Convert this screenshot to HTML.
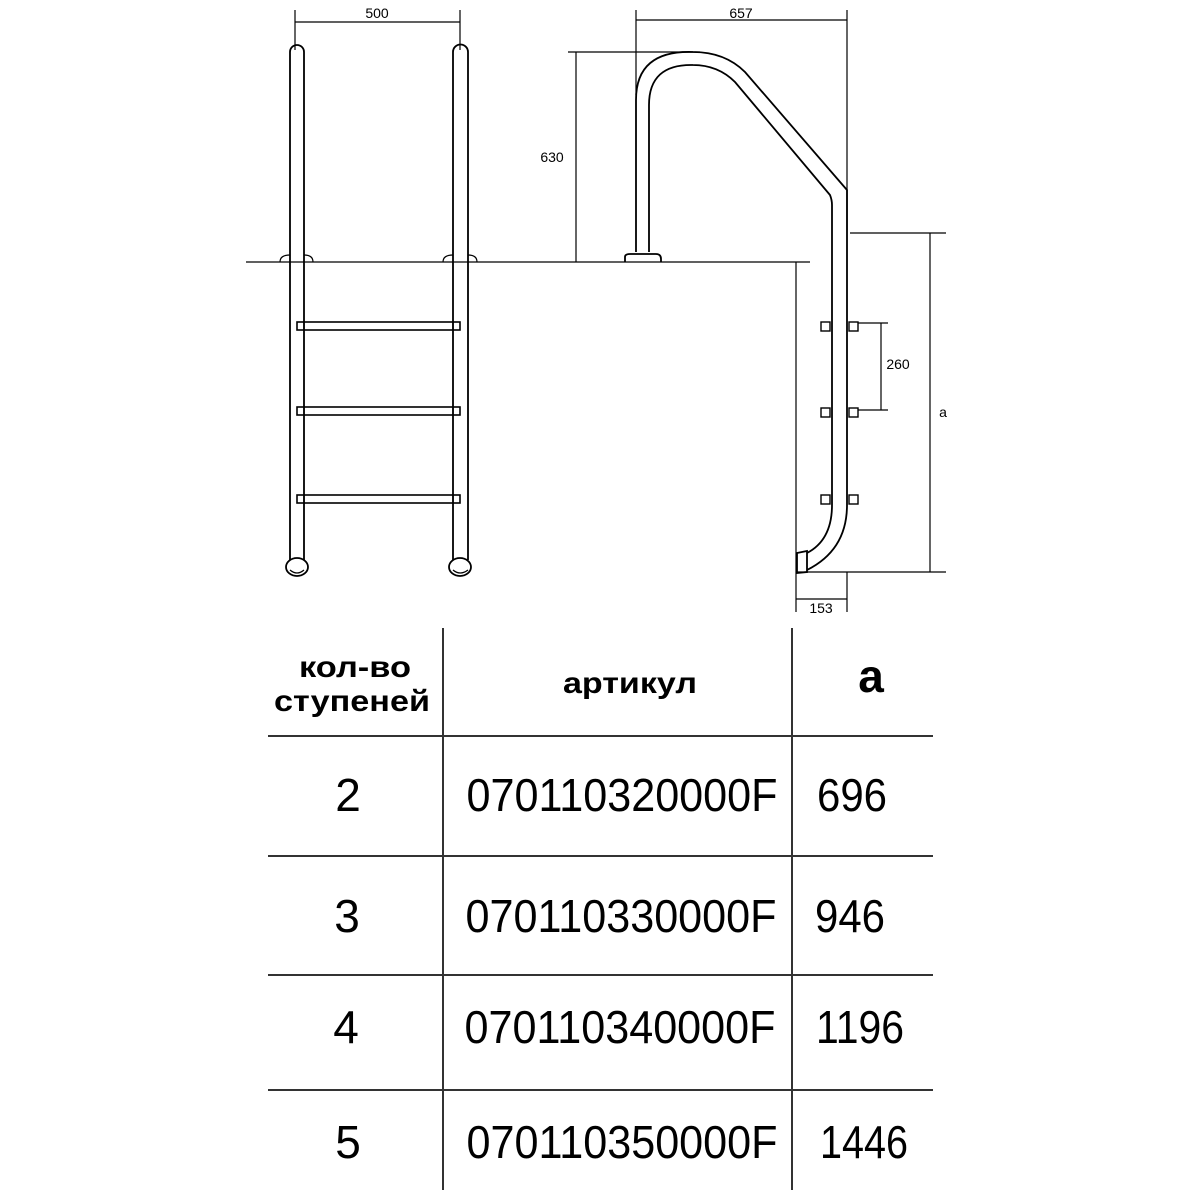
<!DOCTYPE html>
<html><head><meta charset="utf-8"><style>html,body{margin:0;padding:0;background:#fff}svg{display:block}</style></head>
<body>
<svg width="1200" height="1200" viewBox="0 0 1200 1200" xmlns="http://www.w3.org/2000/svg">
<g fill="none" stroke="#000" stroke-width="1.2">
<line x1="295" y1="10" x2="295" y2="50"/>
<line x1="460" y1="10" x2="460" y2="50"/>
<line x1="295" y1="22" x2="460" y2="22"/>
<line x1="246" y1="262" x2="810" y2="262"/>
<path d="M290 560 V52 A7 7 0 0 1 304 52 V560" stroke-width="1.8"/>
<path d="M453 560 V52 A7.5 7.5 0 0 1 468 52 V560" stroke-width="1.8"/>
<ellipse cx="297" cy="567" rx="11" ry="9" stroke-width="1.8"/>
<ellipse cx="460" cy="567" rx="11" ry="9" stroke-width="1.8"/>
<path d="M290 570 Q297 576 304 570" />
<path d="M453 570 Q460 576 468 570" />
<path d="M280 262 Q280 255 290 255"/>
<path d="M304 255 Q313 255 313 262"/>
<path d="M443 262 Q443 255 453 255"/>
<path d="M468 255 Q477 255 477 262"/>
<g stroke-width="1.6">
<rect x="297" y="322" width="163" height="8"/>
<rect x="297" y="407" width="163" height="8"/>
<rect x="297" y="495" width="163" height="8"/>
</g>
<line x1="304" y1="322" x2="304" y2="330"/><line x1="453" y1="322" x2="453" y2="330"/>
<line x1="304" y1="407" x2="304" y2="415"/><line x1="453" y1="407" x2="453" y2="415"/>
<line x1="304" y1="495" x2="304" y2="503"/><line x1="453" y1="495" x2="453" y2="503"/>
<line x1="636" y1="10" x2="636" y2="95"/>
<line x1="847" y1="10" x2="847" y2="230"/>
<line x1="636" y1="20" x2="847" y2="20"/>
<line x1="568" y1="52" x2="700" y2="52"/>
<line x1="576" y1="52" x2="576" y2="262"/>
<g stroke-width="1.8">
<path d="M636 252 V100 Q636 50 693 52 Q725 52 745 72 L847 190 V505 Q847 550 807 570"/>
<path d="M649 252 V105 Q649 64 693 65 Q718 65 735 82 L830 195 Q832 200 832 205 V505 Q832 540 807 553"/>
<path d="M797 553 L807 551 V572 L797 573 Z"/>
<path d="M625 262 V257 Q625 254 630 254 H656 Q661 254 661 259 V262"/>
</g>
<line x1="796" y1="262" x2="796" y2="612"/>
<line x1="847" y1="572" x2="847" y2="612"/>
<line x1="796" y1="599" x2="847" y2="599"/>
<g stroke-width="1.4">
<rect x="821" y="322" width="9" height="9"/><rect x="849" y="322" width="9" height="9"/>
<rect x="821" y="408" width="9" height="9"/><rect x="849" y="408" width="9" height="9"/>
<rect x="821" y="495" width="9" height="9"/><rect x="849" y="495" width="9" height="9"/>
</g>
<line x1="858" y1="323" x2="888" y2="323"/>
<line x1="858" y1="410" x2="888" y2="410"/>
<line x1="881" y1="323" x2="881" y2="410"/>
<line x1="850" y1="233" x2="946" y2="233"/>
<line x1="796" y1="572" x2="946" y2="572"/>
<line x1="930" y1="233" x2="930" y2="572"/>
<g stroke="#333" stroke-width="2">
<line x1="443" y1="628" x2="443" y2="1190"/>
<line x1="792" y1="628" x2="792" y2="1190"/>
<line x1="268" y1="736" x2="933" y2="736"/>
<line x1="268" y1="856" x2="933" y2="856"/>
<line x1="268" y1="975" x2="933" y2="975"/>
<line x1="268" y1="1090" x2="933" y2="1090"/>
</g>
</g>
<g font-family="Liberation Sans, sans-serif" fill="#000">
<text x="377" y="18" font-size="14" text-anchor="middle">500</text>
<text x="741" y="18" font-size="14" text-anchor="middle">657</text>
<text x="552" y="162" font-size="14" text-anchor="middle">630</text>
<text x="898" y="369" font-size="14" text-anchor="middle">260</text>
<text x="943" y="417" font-size="14" text-anchor="middle">a</text>
<text x="821" y="613" font-size="14" text-anchor="middle">153</text>
<g font-weight="bold" font-size="30">
<text x="355" y="677" text-anchor="middle" textLength="112" lengthAdjust="spacingAndGlyphs">кол-во</text>
<text x="352" y="711" text-anchor="middle" textLength="156" lengthAdjust="spacingAndGlyphs">ступеней</text>
<text x="630" y="693" text-anchor="middle" textLength="134" lengthAdjust="spacingAndGlyphs">артикул</text>
<text x="871" y="692" text-anchor="middle" font-size="46">a</text>
</g>
<g font-size="46">
<text x="348" y="811" text-anchor="middle">2</text>
<text x="622" y="811" text-anchor="middle" textLength="311" lengthAdjust="spacingAndGlyphs">070110320000F</text>
<text x="852" y="811" text-anchor="middle" textLength="70" lengthAdjust="spacingAndGlyphs">696</text>
<text x="347" y="932" text-anchor="middle">3</text>
<text x="621" y="932" text-anchor="middle" textLength="311" lengthAdjust="spacingAndGlyphs">070110330000F</text>
<text x="850" y="932" text-anchor="middle" textLength="70" lengthAdjust="spacingAndGlyphs">946</text>
<text x="346" y="1043" text-anchor="middle">4</text>
<text x="620" y="1043" text-anchor="middle" textLength="311" lengthAdjust="spacingAndGlyphs">070110340000F</text>
<text x="860" y="1043" text-anchor="middle" textLength="88" lengthAdjust="spacingAndGlyphs">1196</text>
<text x="348" y="1158" text-anchor="middle">5</text>
<text x="622" y="1158" text-anchor="middle" textLength="311" lengthAdjust="spacingAndGlyphs">070110350000F</text>
<text x="864" y="1158" text-anchor="middle" textLength="88" lengthAdjust="spacingAndGlyphs">1446</text>
</g>
</g>
</svg>
</body></html>
